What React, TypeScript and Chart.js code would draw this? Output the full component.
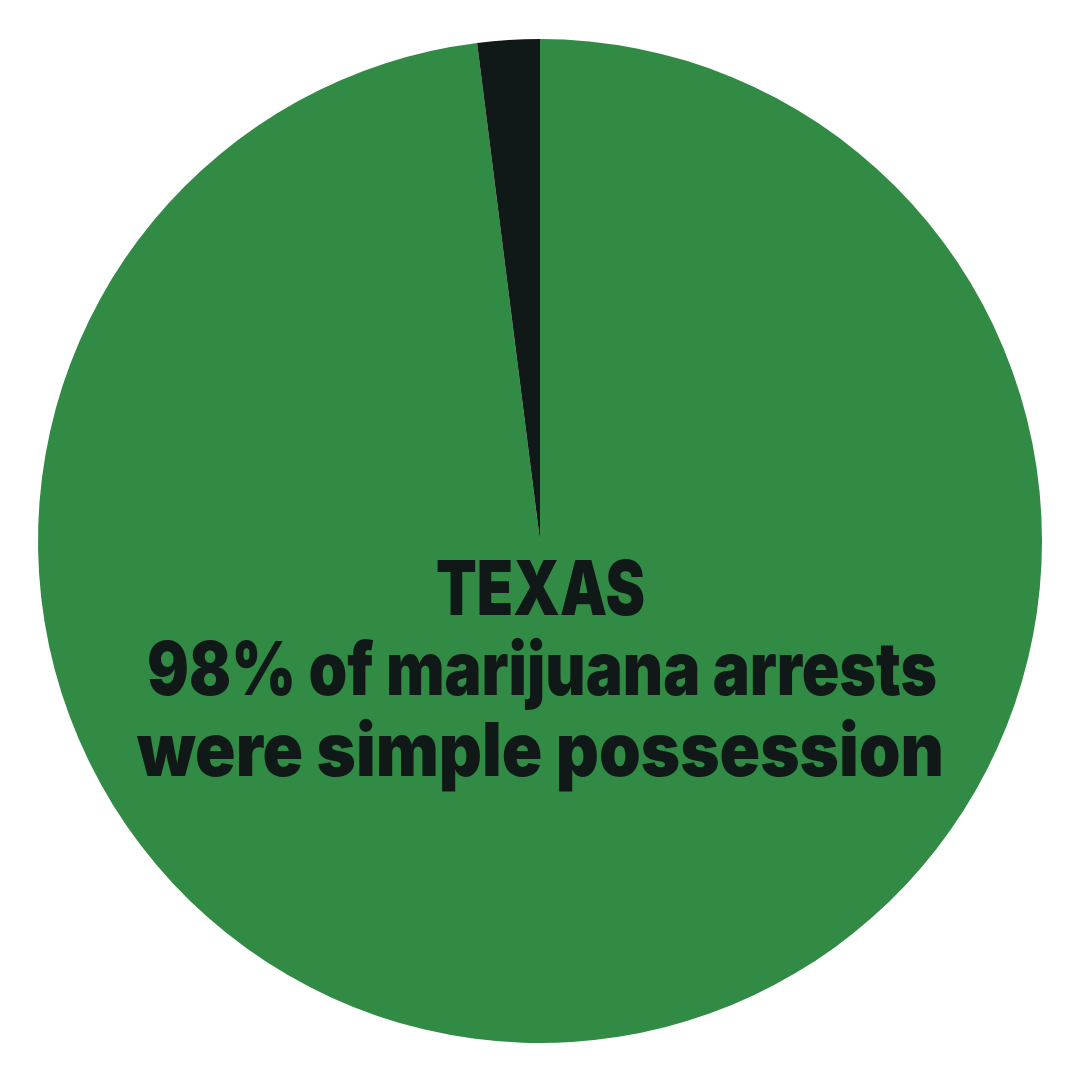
import React, { useEffect, useRef } from "react";
import { Chart, registerables } from "chart.js";

Chart.register(...registerables);

const categories = ["Simple possession", "Other marijuana arrests"];
const values = [98, 2];
const colors = ["#318B44", "#111918"];
const titleLines = ["TEXAS", "98% of marijuana arrests", "were simple possession"];

const textPlugin = {
  id: "centerText",
  afterDraw(chart: any) {
    const ctx = chart.ctx as CanvasRenderingContext2D;
    const specs = [
      { text: titleLines[0], size: 76, baseline: 615, cx: 540.5, width: 209 },
      { text: titleLines[1], size: 74, baseline: 695, cx: 542, width: 790 },
      { text: titleLines[2], size: 74, baseline: 776, cx: 540.5, width: 807 },
    ];
    ctx.save();
    ctx.fillStyle = "#111918";
    ctx.textBaseline = "alphabetic";
    ctx.textAlign = "left";
    for (const s of specs) {
      ctx.font = `900 ${s.size}px Inter, Roboto, "DejaVu Sans", sans-serif`;
      const w = ctx.measureText(s.text).width;
      const sx = s.width / w;
      ctx.save();
      ctx.translate(s.cx - s.width / 2, s.baseline);
      ctx.scale(sx, 1);
      ctx.fillText(s.text, 0, 0);
      ctx.restore();
    }
    ctx.restore();
  },
};

export default function App() {
  const ref = useRef<HTMLCanvasElement | null>(null);
  useEffect(() => {
    if (!ref.current) return;
    const chart = new Chart(ref.current, {
      type: "pie",
      data: {
        labels: categories,
        datasets: [
          {
            data: values,
            backgroundColor: colors,
            borderWidth: 0,
          },
        ],
      },
      options: {
        animation: false,
        responsive: false,
        devicePixelRatio: 1,
        layout: { padding: { top: 39, bottom: 37, left: 38, right: 38 } },
        plugins: {
          legend: { display: false },
          tooltip: { enabled: false },
          title: { display: false },
        },
      },
      plugins: [textPlugin],
    });
    return () => chart.destroy();
  }, []);
  return (
    <div style={{ position: "fixed", left: 0, top: 0, width: 1080, height: 1080, background: "#fff" }}>
      <canvas ref={ref} width={1080} height={1080} style={{ width: 1080, height: 1080 }} />
    </div>
  );
}
